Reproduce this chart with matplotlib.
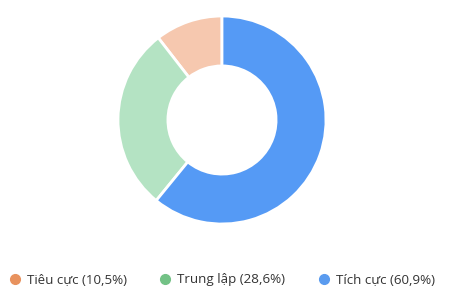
import matplotlib.pyplot as plt
from matplotlib.lines import Line2D

labels = ['Tiêu cực', 'Trung lập', 'Tích cực']
values = [10.5, 28.6, 60.9]
slice_colors = ['#F6C8AF', '#B4E3C3', '#559AF5']
marker_colors = ['#E8925E', '#73C286', '#5A9BEF']

plt.rcParams['font.family'] = ['Open Sans', 'DejaVu Sans']

fig = plt.figure(figsize=(4.75, 3.08), dpi=100)
fig.patch.set_facecolor('white')

# donut centered at (222, 120) px, outer radius ~104 px
cx, cy, r = 222, 120, 104
ax = fig.add_axes([(cx - r) / 475, (308 - cy - r) / 308, 2 * r / 475, 2 * r / 308])
ax.pie(values, colors=slice_colors, startangle=90, counterclock=True,
       radius=1, wedgeprops=dict(width=0.48, edgecolor='white', linewidth=2))
ax.set_xlim(-1, 1)
ax.set_ylim(-1, 1)
ax.set_aspect('equal')
ax.axis('off')

handles = [Line2D([], [], marker='o', linestyle='none', markersize=7,
                  markerfacecolor=c, markeredgecolor=c) for c in marker_colors]
texts = ['{} ({}%)'.format(l, str(v).replace('.', ',')) for l, v in zip(labels, values)]
fig.legend(handles, texts, loc='center left', bbox_to_anchor=(0.0, (308 - 280) / 308),
           ncol=3, frameon=False, fontsize=9.6, handlelength=0.8, handletextpad=0.5,
           columnspacing=2.5, labelcolor='#333333', borderaxespad=0.3)

fig.savefig('out.png', dpi=100, facecolor='white')
